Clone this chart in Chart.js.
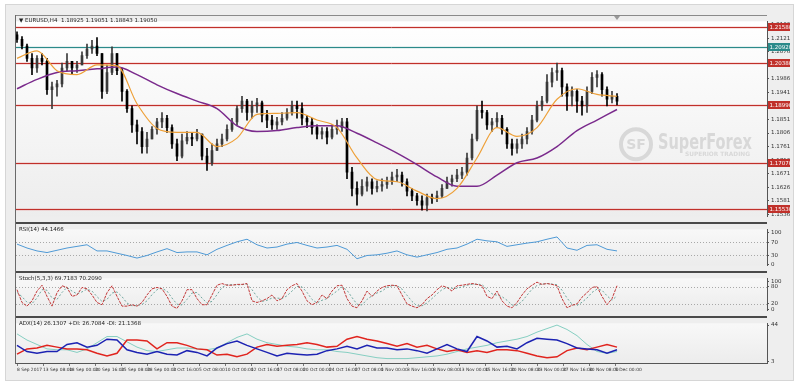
<!DOCTYPE html>
<html>
<head>
<meta charset="utf-8">
<script src="https://cdn.jsdelivr.net/npm/chart.js@4.4.0/dist/chart.umd.min.js"></script>
<style>
  body { margin: 0; width: 800px; height: 388px; overflow: hidden; background: #fff; font-family: "DejaVu Sans", sans-serif; }
  #win { position: absolute; left: 5px; top: 4px; width: 787px; height: 375px; background: #eeeeee; border: 1px solid #d6d6d6; }
  .pane { position: absolute; left: 16px; width: 774px; }
  .lbl { position: absolute; left: 19px; font-size: 5.5px; color: #222; white-space: nowrap; }
  .sep { position: absolute; left: 16px; width: 751px; background: #4a4a4a; }
  #shift { position: absolute; left: 614px; top: 16px; width: 0; height: 0; border-left: 3px solid transparent; border-right: 3px solid transparent; border-top: 4px solid #999; }
</style>
</head>
<body>
<div id="win"></div>
<div class="pane" style="top:16px;height:206px"><canvas id="priceChart"></canvas></div>
<div class="pane" style="top:224px;height:47px"><canvas id="rsiChart"></canvas></div>
<div class="pane" style="top:273px;height:43px"><canvas id="stochChart"></canvas></div>
<div class="pane" style="top:318px;height:57px"><canvas id="adxChart"></canvas></div>
<div class="sep" style="top:15px;height:1px;background:#8a8a8a"></div>
<div class="sep" style="top:222px;height:2px"></div>
<div class="sep" style="top:271px;height:2px"></div>
<div class="sep" style="top:316px;height:2px"></div>
<div style="position:absolute;left:15px;top:15px;width:1px;height:349px;background:#6a6a6a"></div>
<div id="shift"></div>
<div class="lbl" style="top:17px">▼ EURUSD,H4 &nbsp;1.18925 1.19051 1.18843 1.19050</div>
<div class="lbl" style="top:226px">RSI(14) 44.1466</div>
<div class="lbl" style="top:275px">Stoch(5,3,3) 69.7183 70.2090</div>
<div class="lbl" style="top:320px">ADX(14) 26.1307 +DI: 26.7084 -DI: 21.1368</div>

<script>
// EURUSD H4 candles, open of each bar = close of previous one
const firstOpen = 1.2132;
const closes = [
  1.2117, 1.2095, 1.2054, 1.2022, 1.2054, 1.2044, 1.1950, 1.1959, 1.1969, 1.2022,
  1.2044, 1.2022, 1.2032, 1.2063, 1.2085, 1.2095, 1.2070, 1.1944, 1.2007, 1.2070,
  1.2013, 1.1944, 1.1887, 1.1833, 1.1811, 1.1761, 1.1786, 1.1818, 1.1843, 1.1855,
  1.1824, 1.1770, 1.1729, 1.1780, 1.1792, 1.1786, 1.1802, 1.1729, 1.1707, 1.1748,
  1.1770, 1.1786, 1.1818, 1.1843, 1.1887, 1.1912, 1.1874, 1.1896, 1.1906, 1.1865,
  1.1849, 1.1833, 1.1843, 1.1855, 1.1874, 1.1896, 1.1887, 1.1855, 1.1843, 1.1824,
  1.1802, 1.1811, 1.1792, 1.1818, 1.1824, 1.1843, 1.1676, 1.1622, 1.1603, 1.1629,
  1.1644, 1.1622, 1.1629, 1.1635, 1.1644, 1.1660, 1.1666, 1.1644, 1.1613, 1.1597,
  1.1581, 1.1566, 1.1591, 1.1588, 1.1597, 1.1622, 1.1644, 1.1654, 1.1666, 1.1676,
  1.1723, 1.1786, 1.1881, 1.1874, 1.1833, 1.1843, 1.1855, 1.1818, 1.1770, 1.1755,
  1.1770, 1.1786, 1.1811, 1.1849, 1.1896, 1.1912, 1.1975, 1.2007, 1.2013, 1.1959,
  1.1928, 1.1944, 1.1912, 1.1896, 1.1944, 1.1991, 1.2000, 1.1950, 1.1918, 1.1928,
  1.1912
];
const highs = [
  1.2142, 1.2126, 1.2101, 1.2070, 1.2063, 1.2070, 1.2054, 1.1975, 1.1981, 1.2038,
  1.2070, 1.2044, 1.2044, 1.2076, 1.2101, 1.2114, 1.2123, 1.2070, 1.2032, 1.2092,
  1.2070, 1.2022, 1.1950, 1.1896, 1.1849, 1.1824, 1.1808, 1.1827, 1.1855, 1.1874,
  1.1865, 1.1833, 1.1786, 1.1802, 1.1811, 1.1808, 1.1818, 1.1802, 1.1755, 1.1770,
  1.1786, 1.1802, 1.1833, 1.1855, 1.1896, 1.1928, 1.1918, 1.1912, 1.1921, 1.1912,
  1.1881, 1.1865, 1.1858, 1.1874, 1.1887, 1.1912, 1.1912, 1.1906, 1.1865, 1.1855,
  1.1833, 1.1824, 1.1824, 1.1833, 1.1849, 1.1855, 1.1855, 1.1692, 1.1644, 1.1651,
  1.1660, 1.1654, 1.1647, 1.1654, 1.1660, 1.1676, 1.1685, 1.1676, 1.1654, 1.1622,
  1.1606, 1.1597, 1.1603, 1.1603, 1.1613, 1.1635, 1.1660, 1.1666, 1.1685, 1.1692,
  1.1739, 1.1802, 1.1896, 1.1912, 1.1881, 1.1855, 1.1874, 1.1865, 1.1824, 1.1786,
  1.1786, 1.1802, 1.1824, 1.1865, 1.1912, 1.1928, 1.2000, 1.2022, 1.2038, 1.2022,
  1.1969, 1.1959, 1.1950, 1.1928, 1.1959, 1.2007, 1.2013, 1.2007, 1.1959, 1.1944,
  1.1937
];
const lows = [
  1.2107, 1.2085, 1.2044, 1.2000, 1.2007, 1.2032, 1.1934, 1.1887, 1.1928, 1.1959,
  1.2013, 1.2000, 1.2007, 1.2032, 1.2054, 1.2070, 1.2063, 1.1921, 1.1937, 1.2000,
  1.2000, 1.1912, 1.1874, 1.1808, 1.1770, 1.1739, 1.1739, 1.1786, 1.1802, 1.1824,
  1.1808, 1.1755, 1.1714, 1.1723, 1.1770, 1.1764, 1.1780, 1.1717, 1.1682, 1.1698,
  1.1748, 1.1761, 1.1780, 1.1811, 1.1833, 1.1874, 1.1849, 1.1855, 1.1874, 1.1843,
  1.1824, 1.1818, 1.1818, 1.1833, 1.1849, 1.1865, 1.1855, 1.1833, 1.1824, 1.1802,
  1.1786, 1.1786, 1.1770, 1.1786, 1.1802, 1.1811, 1.1654, 1.1597, 1.1566, 1.1597,
  1.1613, 1.1603, 1.1610, 1.1613, 1.1622, 1.1635, 1.1644, 1.1629, 1.1597, 1.1581,
  1.1566, 1.1550, 1.1547, 1.1572, 1.1578, 1.1591, 1.1622, 1.1629, 1.1644, 1.1654,
  1.1666, 1.1717, 1.1780, 1.1855, 1.1818, 1.1811, 1.1824, 1.1802, 1.1755, 1.1732,
  1.1739, 1.1755, 1.1770, 1.1802, 1.1843, 1.1881, 1.1906, 1.1959, 1.1981, 1.1928,
  1.1881, 1.1896, 1.1874, 1.1865, 1.1874, 1.1937, 1.1959, 1.1928, 1.1896, 1.1906,
  1.1899
];

// moving averages, one value every 4 bars
const maFast = [1.2054, 1.2079, 1.2013, 1.2000, 1.2032, 1.2029, 1.1903, 1.1821, 1.1808, 1.1808,
  1.1761, 1.1789, 1.1868, 1.1871, 1.1874, 1.1849, 1.1824, 1.1723, 1.1651, 1.1644,
  1.1613, 1.1588, 1.1622, 1.1723, 1.1824, 1.1795, 1.1824, 1.1918, 1.1953, 1.1934, 1.1928];
const maSlow = [1.1953, 1.1984, 1.2007, 1.2013, 1.2019, 1.2025, 1.2000, 1.1966, 1.1937, 1.1912,
  1.1887, 1.1830, 1.1811, 1.1814, 1.1824, 1.1830, 1.1830, 1.1805, 1.1773, 1.1739,
  1.1701, 1.1660, 1.1629, 1.1629, 1.1666, 1.1707, 1.1723, 1.1761, 1.1814, 1.1849, 1.1884];

// indicators
const rsi = [64, 52, 43, 38, 45, 52, 57, 62, 43, 43, 36, 29, 21, 29, 40, 50, 38, 40, 40, 31,
  48, 60, 71, 79, 62, 52, 55, 64, 69, 60, 52, 55, 60, 48, 19, 29, 31, 36, 43, 31,
  24, 31, 38, 48, 52, 64, 79, 74, 71, 57, 62, 67, 71, 79, 86, 52, 45, 60, 62, 48, 43];
const stochK = [70, 24, 11, 30, 65, 86, 46, 11, 59, 84, 78, 46, 51, 78, 73, 51, 24, 16, 59, 84,
  46, 11, 11, 16, 11, 24, 51, 73, 78, 73, 46, 11, 3, 30, 70, 70, 38, 16, 16, 51,
  86, 92, 86, 86, 89, 89, 92, 30, 24, 30, 38, 51, 30, 38, 70, 84, 92, 65, 30, 16,
  24, 51, 38, 65, 84, 86, 38, 11, 5, 30, 65, 46, 65, 78, 84, 86, 84, 51, 19, 11,
  5, 16, 38, 51, 70, 84, 78, 65, 84, 86, 89, 92, 89, 84, 46, 38, 65, 30, 11, 5,
  24, 51, 73, 86, 97, 89, 92, 89, 84, 38, 5, 14, 19, 43, 59, 78, 81, 46, 16, 38, 84];
const stochD = [60, 45, 25, 20, 40, 70, 68, 40, 35, 60, 78, 65, 55, 62, 72, 65, 45, 28, 35, 58,
  62, 45, 22, 12, 13, 17, 30, 52, 70, 75, 65, 40, 18, 15, 35, 58, 60, 40, 22, 28,
  52, 78, 88, 88, 87, 88, 90, 70, 45, 28, 32, 40, 40, 38, 48, 65, 82, 80, 60, 35,
  22, 32, 38, 52, 65, 80, 68, 42, 18, 15, 35, 48, 58, 65, 78, 84, 85, 72, 50, 28,
  12, 12, 22, 38, 55, 70, 78, 75, 75, 80, 86, 89, 90, 88, 72, 55, 50, 45, 32, 15,
  14, 28, 50, 72, 85, 90, 92, 90, 88, 68, 40, 18, 13, 25, 40, 60, 72, 68, 48, 32, 48];
const adx = [34, 27, 22, 17, 16, 16, 13, 17, 24, 31, 31, 25, 19, 15, 14, 16, 18, 18, 17, 16,
  18, 24, 30, 34, 28, 24, 22, 20, 19, 17, 16, 16, 14, 13, 11, 9, 7, 6, 6, 6,
  7, 8, 9, 11, 14, 17, 19, 21, 24, 26, 28, 31, 36, 40, 44, 39, 32, 22, 14, 12, 14];
const plusDI = [21, 14, 12, 14, 14, 22, 24, 19, 21, 28, 27, 16, 13, 11, 14, 11, 10, 15, 13, 9,
  18, 23, 26, 21, 17, 13, 9, 12, 11, 10, 11, 15, 17, 20, 17, 21, 18, 18, 16, 17,
  15, 12, 17, 22, 17, 14, 31, 26, 19, 20, 17, 24, 29, 28, 27, 23, 18, 17, 16, 12, 16];
const minusDI = [11, 17, 18, 21, 19, 17, 17, 16, 12, 9, 12, 27, 27, 26, 17, 24, 24, 21, 17, 16,
  10, 11, 8, 11, 19, 22, 20, 21, 22, 24, 22, 19, 20, 28, 31, 28, 26, 23, 20, 23,
  19, 21, 17, 14, 16, 13, 15, 13, 16, 16, 15, 12, 9, 7, 8, 15, 18, 16, 19, 22, 19];

// horizontal levels and axis labels
const levelValues = [1.2158, 1.2092, 1.2038, 1.1899, 1.1707, 1.1553];
const levelColors = ['#c0302a', '#2b8a8a', '#c0302a', '#c0302a', '#c0302a', '#c0302a'];
const priceTicks = [1.1536, 1.1581, 1.1626, 1.1671, 1.1716, 1.1761, 1.1806, 1.1851,
  1.1896, 1.1941, 1.1986, 1.2031, 1.2076, 1.2121, 1.2166];
const dateTicks = [0, 5.2, 10.4, 15.6, 20.8, 26, 31.2, 36.4, 41.6, 46.8, 52, 57.2,
  62.4, 67.6, 72.8, 78, 83.2, 88.4, 93.6, 98.8, 104, 109.2, 114.4, 119.6];
const dateLabels = ['8 Sep 2017', '13 Sep 08:00', '18 Sep 00:00', '20 Sep 16:00', '25 Sep 08:00',
  '28 Sep 00:00', '2 Oct 16:00', '5 Oct 08:00', '10 Oct 00:00', '12 Oct 16:00', '17 Oct 08:00',
  '20 Oct 00:00', '24 Oct 16:00', '27 Oct 08:00', '1 Nov 00:00', '3 Nov 16:00', '8 Nov 08:00',
  '13 Nov 00:00', '15 Nov 16:00', '20 Nov 08:00', '23 Nov 00:00', '27 Nov 16:00', '30 Nov 08:00',
  '5 Dec 00:00'];

Chart.defaults.font.family = '"DejaVu Sans", sans-serif';
Chart.defaults.animation = false;
Chart.defaults.events = [];
Chart.defaults.plugins.legend.display = false;
Chart.defaults.plugins.tooltip.enabled = false;

const opens = closes.map((c, i) => i ? closes[i - 1] : firstOpen);
const every = (arr, step) => arr.map((v, k) => ({ x: k * step, y: v }));
const candleColor = ctx => closes[ctx.dataIndex] >= opens[ctx.dataIndex] ? '#3a3a3a' : '#000';

const panelBg = {
  id: 'panelBg',
  beforeDraw(chart, args, opts) {
    const { ctx, chartArea: a } = chart;
    const g = ctx.createLinearGradient(0, a.top, 0, a.bottom);
    g.addColorStop(0, opts.top);
    g.addColorStop(1, opts.bottom);
    ctx.save();
    ctx.fillStyle = g;
    ctx.fillRect(a.left, a.top, a.right - a.left, a.bottom - a.top);
    ctx.restore();
  }
};

const levels = {
  id: 'levels',
  beforeDatasetsDraw(chart, args, opts) {
    const { ctx, chartArea: a, scales: { y } } = chart;
    ctx.save();
    (opts.lines || []).forEach(l => {
      const py = Math.round(y.getPixelForValue(l.value)) + 0.5;
      if (l.glow) {
        ctx.strokeStyle = l.glow;
        ctx.lineWidth = 3;
        ctx.beginPath(); ctx.moveTo(a.left, py); ctx.lineTo(a.right, py); ctx.stroke();
      }
      ctx.strokeStyle = l.color;
      ctx.lineWidth = l.width || 1;
      ctx.setLineDash(l.dash || []);
      ctx.beginPath(); ctx.moveTo(a.left, py); ctx.lineTo(a.right, py); ctx.stroke();
      ctx.setLineDash([]);
    });
    ctx.restore();
  },
  afterDraw(chart, args, opts) {
    const { ctx, chartArea: a, scales: { y } } = chart;
    ctx.save();
    (opts.lines || []).filter(l => l.box).forEach(l => {
      const py = Math.round(y.getPixelForValue(l.value));
      ctx.fillStyle = l.color;
      ctx.fillRect(a.right + 1, py - 4, 22, 8);
      ctx.fillStyle = '#fff';
      ctx.font = '5.5px "DejaVu Sans"';
      ctx.textBaseline = 'middle';
      ctx.fillText(l.value.toFixed(5), a.right + 2.5, py + 0.5);
    });
    ctx.restore();
  }
};

const watermark = {
  id: 'watermark',
  beforeDatasetsDraw(chart) {
    const { ctx, chartArea: a } = chart;
    const cx = a.right - 131, cy = a.top + 123;
    ctx.save();
    ctx.strokeStyle = '#d8d8d8';
    ctx.fillStyle = '#d8d8d8';
    ctx.lineWidth = 4;
    ctx.beginPath(); ctx.arc(cx, cy, 15, 0, Math.PI * 2); ctx.stroke();
    ctx.font = 'bold 14px "DejaVu Sans"';
    ctx.textAlign = 'center';
    ctx.textBaseline = 'middle';
    ctx.fillText('SF', cx, cy + 1);
    ctx.textAlign = 'left';
    ctx.textBaseline = 'alphabetic';
    ctx.font = 'bold 22px "DejaVu Sans"';
    let w = ctx.measureText('SuperForex').width;
    ctx.save();
    ctx.translate(a.right - 109, a.top + 128);
    ctx.scale(94 / w, 1);
    ctx.fillText('SuperForex', 0, 0);
    ctx.restore();
    ctx.font = 'bold 6px "DejaVu Sans"';
    w = ctx.measureText('SUPERIOR TRADING').width;
    ctx.translate(a.right - 82, a.top + 135);
    ctx.scale(65 / w, 1);
    ctx.fillText('SUPERIOR TRADING', 0, 0);
    ctx.restore();
  }
};

function xAxis(show) {
  const axis = { type: 'linear', min: -0.2, max: 150, offset: false, display: show,
    grid: { offset: false, drawOnChartArea: false } };
  if (show) {
    Object.assign(axis, {
      afterFit: s => { s.height = 12; },
      afterBuildTicks: s => { s.ticks = dateTicks.map(v => ({ value: v })); },
      ticks: { autoSkip: false, maxRotation: 0, align: 'start', padding: 1, color: '#333',
        font: { size: 4.4 }, callback: (v, i) => dateLabels[i] },
      grid: { offset: false, drawOnChartArea: false, tickLength: 3, color: '#777' },
      border: { color: '#555' }
    });
  }
  return axis;
}

function yAxis(min, max, tickValues, fmt) {
  return {
    position: 'right', min: min, max: max, beginAtZero: false,
    afterFit: s => { s.width = 23; },
    afterBuildTicks: s => { s.ticks = tickValues.map(v => ({ value: v })); },
    ticks: { autoSkip: false, padding: 2, color: '#333', font: { size: 5.5 }, callback: fmt },
    grid: { drawOnChartArea: false, tickLength: 2, color: '#555' },
    border: { color: '#555' }
  };
}

const layout = { padding: 0, autoPadding: false };

new Chart(document.getElementById('priceChart'), {
  type: 'bar',
  data: {
    datasets: [
      { type: 'line', data: every(maFast, 4), borderColor: '#eea038', borderWidth: 1.2,
        pointRadius: 0, cubicInterpolationMode: 'monotone' },
      { type: 'line', data: every(maSlow, 4), borderColor: '#7a2a8c', borderWidth: 1.5,
        pointRadius: 0, cubicInterpolationMode: 'monotone' },
      { data: closes.map((c, i) => ({ x: i, y: [opens[i], c] })), backgroundColor: candleColor,
        barThickness: 2, grouped: false, minBarLength: 1 },
      { data: closes.map((c, i) => ({ x: i, y: [lows[i], highs[i]] })), backgroundColor: candleColor,
        barThickness: 1, grouped: false }
    ]
  },
  options: {
    responsive: true, maintainAspectRatio: false, layout: layout,
    scales: {
      x: xAxis(false),
      y: yAxis(1.1528, 1.2177, priceTicks, v => v.toFixed(5))
    },
    plugins: {
      panelBg: { top: '#ffffff', bottom: '#ededed' },
      levels: { lines: levelValues.map((v, i) => ({ value: v, color: levelColors[i], width: 1,
        glow: i === 1 ? 'rgba(80,160,160,0.15)' : 'rgba(225,90,90,0.18)', box: true })) }
    }
  },
  plugins: [panelBg, watermark, levels]
});

new Chart(document.getElementById('rsiChart'), {
  type: 'line',
  data: { datasets: [
    { data: every(rsi, 2), borderColor: '#4f9ad6', borderWidth: 1, pointRadius: 0 }
  ] },
  options: {
    responsive: true, maintainAspectRatio: false, layout: layout,
    scales: { x: xAxis(false), y: yAxis(-2.4, 109.5, [0, 30, 70, 100], v => v) },
    plugins: {
      panelBg: { top: '#f8f8f8', bottom: '#ececec' },
      levels: { lines: [30, 70].map(v => ({ value: v, color: '#a8a8a8', dash: [1, 2] })) }
    }
  },
  plugins: [panelBg, levels]
});

new Chart(document.getElementById('stochChart'), {
  type: 'line',
  data: { datasets: [
    { data: every(stochK, 1), borderColor: '#c23a3a', borderWidth: 1, borderDash: [3, 1], pointRadius: 0 },
    { data: every(stochD, 1), borderColor: '#6fa79e', borderWidth: 1, borderDash: [2, 2], pointRadius: 0 }
  ] },
  options: {
    responsive: true, maintainAspectRatio: false, layout: layout,
    scales: { x: xAxis(false), y: yAxis(-5.4, 110.8, [0, 20, 80, 100], v => v) },
    plugins: {
      panelBg: { top: '#f8f8f8', bottom: '#ececec' },
      levels: { lines: [20, 80].map(v => ({ value: v, color: '#a8a8a8', dash: [1, 2] })) }
    }
  },
  plugins: [panelBg, levels]
});

new Chart(document.getElementById('adxChart'), {
  type: 'line',
  data: { datasets: [
    { data: every(plusDI, 2), borderColor: '#1c22b2', borderWidth: 1.5, pointRadius: 0 },
    { data: every(minusDI, 2), borderColor: '#e0241e', borderWidth: 1.5, pointRadius: 0 },
    { data: every(adx, 2), borderColor: '#86cfc2', borderWidth: 1, pointRadius: 0 }
  ] },
  options: {
    responsive: true, maintainAspectRatio: false, layout: layout,
    scales: { x: xAxis(true), y: yAxis(1, 46, [3, 44], v => v) },
    plugins: { panelBg: { top: '#f8f8f8', bottom: '#ececec' } }
  },
  plugins: [panelBg]
});
</script>
</body>
</html>
